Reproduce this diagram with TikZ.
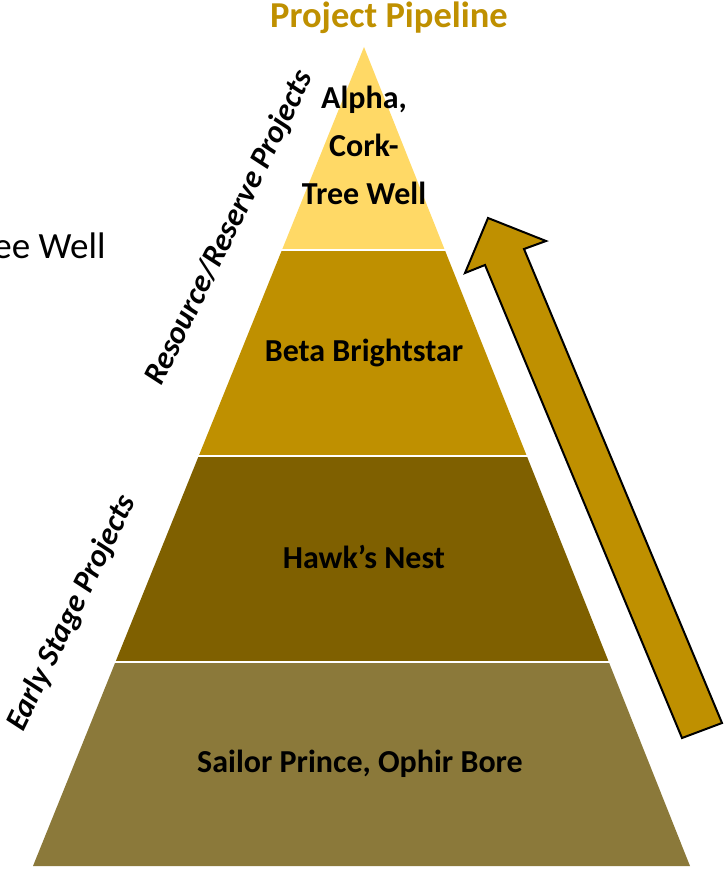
\documentclass[tikz,border=0pt]{standalone}
\usepackage{fontspec}
\setmainfont{Carlito}
\usepackage{tikz}
\usetikzlibrary{positioning}
\definecolor{paleGold}{HTML}{FFD966}
\definecolor{darkGold}{HTML}{BF9000}
\definecolor{deepGold}{HTML}{7F6000}
\definecolor{oliveGold}{HTML}{8B793A}
\tikzset{tierlabel/.style={font=\fontsize{32}{38}\selectfont\bfseries,text=black,align=center}}
\tikzset{sidelabel/.style={font=\fontsize{31.5}{38}\selectfont\bfseries\itshape,rotate=64}}
\tikzset{pipearrow/.style={draw=black,fill=darkGold,line width=2pt,line join=miter}}

\begin{document}
\begin{tikzpicture}[x=1pt,y=-1pt]
\useasboundingbox (0,0) rectangle (725,869);
\coordinate (apex) at (364,47);
\coordinate (baseL) at (33,866);
\coordinate (baseR) at (690,866);

\foreach \ya / \yb / \col in {47/248/paleGold, 251/454/darkGold, 457/660/deepGold, 663/866/oliveGold}
{ {
	\begin{scope}
	\clip (0,\ya) rectangle (725,\yb);
	\fill[\col] (apex) -- (baseL) -- (baseR) -- cycle;
	\end{scope}
} }

\node (title) at (389,18) [font=\fontsize{36.5}{42}\selectfont\bfseries,text=darkGold] {Project Pipeline};
\node (alpha) at (364,145) [tierlabel,font=\fontsize{32}{48}\selectfont\bfseries] {Alpha,\\Cork-\\Tree Well};
\node (beta) at (364,353) [tierlabel] {Beta Brightstar};
\node (hawk) at (364,557) [tierlabel] {Hawk’s Nest};
\node (sailor) at (360,764) [tierlabel] {Sailor Prince, Ophir Bore};

\node (resLabel) at (230,228) [sidelabel] {Resource/Reserve Projects};
\node (earlyLabel) at (72,613) [sidelabel] {Early Stage Projects};
\node (leftWell) at (109,246) [anchor=east,font=\fontsize{37}{44}\selectfont] {ee Well};

\coordinate (tip) at (488,218);
\coordinate (barbR) at (546,241);
\coordinate (neckR) at (524,249);
\coordinate (tailR) at (722,723);
\coordinate (tailL) at (682,738);
\coordinate (neckL) at (485,265);
\coordinate (barbL) at (465,273);
\draw[pipearrow] (tip) -- (barbR) -- (neckR) -- (tailR) -- (tailL) -- (neckL) -- (barbL) -- cycle;
\end{tikzpicture}
\end{document}
